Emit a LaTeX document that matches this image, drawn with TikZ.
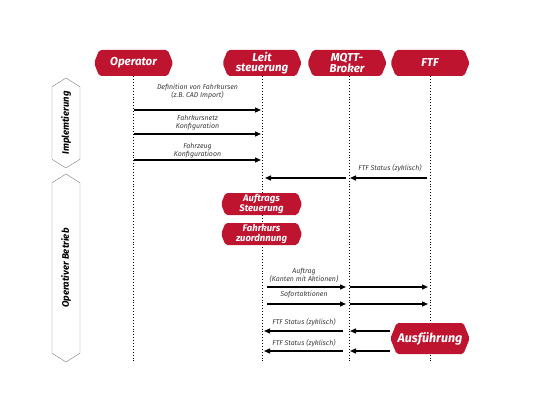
\documentclass[tikz,border=0pt]{standalone}
\usepackage{fontspec}
\setmainfont{Fira Sans}
\usetikzlibrary{arrows.meta,positioning,shapes.symbols}
\definecolor{ftfred}{HTML}{BE1430}
\definecolor{ftfgray}{HTML}{808080}
\definecolor{ftftext}{HTML}{3A3A3A}
\tikzset{
  ftf/head/.style={
    shape=signal, signal to=east and west, signal pointer angle=136,
    fill=ftfred, text=white, rounded corners=2pt, align=center, inner sep=1pt,
    font=\bfseries\itshape\fontsize{11.5}{10.5}\selectfont,
    minimum width=79pt, minimum height=26pt
  },
  ftf/task/.style={
    ftf/head, font=\bfseries\itshape\fontsize{9.5}{9.5}\selectfont,
    minimum width=81pt, minimum height=22pt
  },
  ftf/phase/.style={
    shape=signal, signal to=east and west, signal pointer angle=116,
    draw=ftfgray, fill=white, rotate=90, inner sep=1pt,
    font=\bfseries\itshape\fontsize{9.5}{11}\selectfont, minimum height=28pt
  },
  ftf/msg/.style={
    font=\itshape\fontsize{7}{8}\selectfont, text=ftftext, align=center, inner sep=0pt
  },
  ftf/life/.style={dotted, line width=0.9pt},
  ftf/arr/.style={-{Triangle[length=6pt,width=5pt]}, line width=1.3pt}
}
\begin{document}
\begin{tikzpicture}[x=1pt, y=-1pt]
  \useasboundingbox (0,0) rectangle (546,412);
  % Kopfzeile
  \node[ftf/head] (op) at (133.5,63) {Operator};
  \node[ftf/head] (leit) at (262,63) {Leit\\steuerung};
  \node[ftf/head] (mqtt) at (347,63) {MQTT-\\Broker};
  \node[ftf/head] (ftf) at (430,63) {FTF};

  % Phasen
  \node[ftf/phase, minimum width=90pt] (impl) at (66,123) {Implemtierung};
  \node[ftf/phase, minimum width=188pt] (betr) at (66,268) {Operativer Betrieb};

  % Lebenslinien
  \coordinate (bottom) at (0,362);
  \draw[ftf/life] (op.south) -- (op |- bottom);
  \draw[ftf/life] (leit.south) -- (leit |- bottom);
  \draw[ftf/life] ([xshift=2pt]mqtt.south) -- ([xshift=2pt]mqtt |- bottom);
  \draw[ftf/life] (ftf.south) -- (ftf |- bottom);

  % Implementierung
  \coordinate (y1) at (0,110);
  \coordinate (y2) at (0,134);
  \coordinate (y3) at (0,160);
  \coordinate (y4) at (0,178);
  \node[ftf/msg] (m1) at (197.5,92) {Definition von Fahrkursen\\(z.B. CAD Import)};
  \node[ftf/msg] (m2) at (197.5,122.5) {Fahrkursnetz\\Konfiguration};
  \node[ftf/msg] (m3) at (197.5,150.5) {Fahrzeug\\Konfiguratioon};
  \node[ftf/msg] (m4) at (390,168) {FTF Status (zyklisch)};
  \draw[ftf/arr] (op |- y1) -- ([xshift=-1pt]leit |- y1);
  \draw[ftf/arr] (op |- y2) -- ([xshift=-1pt]leit |- y2);
  \draw[ftf/arr] (op |- y3) -- ([xshift=-1pt]leit |- y3);
  \draw[ftf/arr] ([xshift=-3pt]ftf |- y4) -- ([xshift=3pt]mqtt |- y4);
  \draw[ftf/arr] ([xshift=-1pt]mqtt |- y4) -- ([xshift=3pt]leit |- y4);

  % Operativer Betrieb
  \node[ftf/task] (auft) at (261.5,204) {Auftrags\\Steuerung};
  \node[ftf/task] (zuord) at (261.5,234) {Fahrkurs\\zuordnnung};
  \coordinate (y5) at (0,287);
  \coordinate (y6) at (0,304);
  \coordinate (y7) at (0,331);
  \coordinate (y8) at (0,351);
  \node[ftf/msg] (m5) at (304,275.5) {Auftrag\\(Kanten mit Aktionen)};
  \node[ftf/msg] (m6) at (304,295) {Sofortaktionen};
  \node[ftf/msg] (m7) at (304,322) {FTF Status (zyklisch)};
  \node[ftf/msg] (m8) at (304,343) {FTF Status (zyklisch)};
  \draw[ftf/arr] ([xshift=5pt]leit |- y5) -- ([xshift=-1pt]mqtt |- y5);
  \draw[ftf/arr] ([xshift=3pt]mqtt |- y5) -- ([xshift=-2pt]ftf |- y5);
  \draw[ftf/arr] ([xshift=5pt]leit |- y6) -- ([xshift=-1pt]mqtt |- y6);
  \draw[ftf/arr] ([xshift=3pt]mqtt |- y6) -- ([xshift=-2pt]ftf |- y6);
  \node[ftf/head, minimum width=75pt, minimum height=31pt,
    font=\bfseries\itshape\fontsize{12.5}{12}\selectfont] (ausf) at (430,338.5) {Ausführung};
  \draw[ftf/arr] (ausf.west |- y7) -- ([xshift=3pt]mqtt |- y7);
  \draw[ftf/arr] ([xshift=-4pt]mqtt |- y7) -- ([xshift=2pt]leit |- y7);
  \draw[ftf/arr] (ausf.west |- y8) -- ([xshift=3pt]mqtt |- y8);
  \draw[ftf/arr] ([xshift=-4pt]mqtt |- y8) -- ([xshift=2pt]leit |- y8);
\end{tikzpicture}
\end{document}
